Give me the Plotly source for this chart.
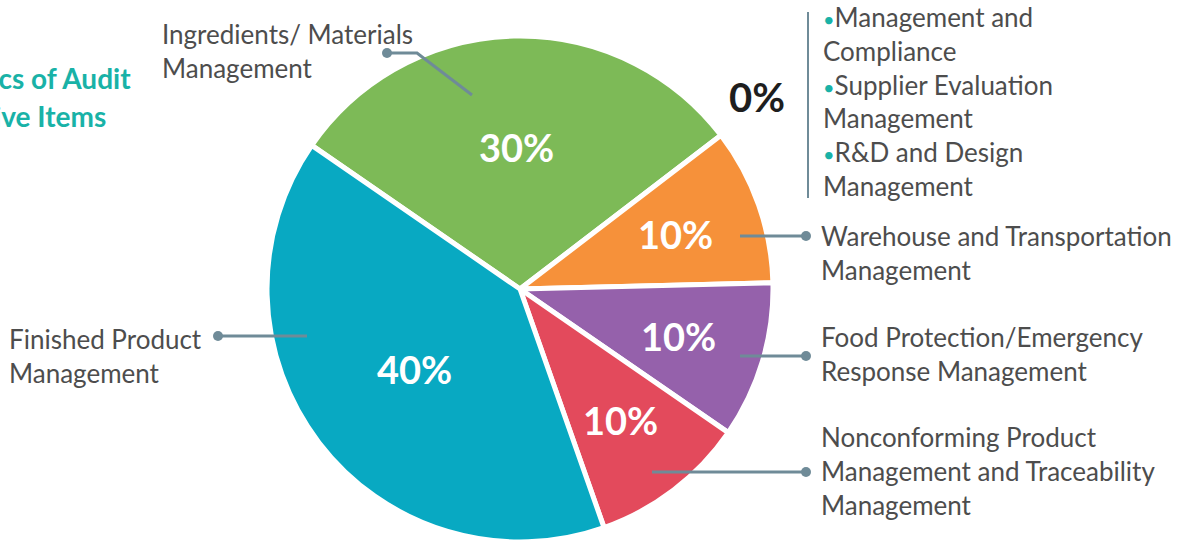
import math
import plotly.graph_objects as go

W, H = 1187, 542

categories = [
    "Ingredients/ Materials Management",
    "Warehouse and Transportation Management",
    "Food Protection/Emergency Response Management",
    "Nonconforming Product Management and Traceability Management",
    "Finished Product Management",
]
values = [30, 10, 10, 10, 40]
colors = ["#7dba57", "#f6913a", "#9561ab", "#e34a5c", "#08a9c2"]

zero_items = ["Management and<br>Compliance", "Supplier Evaluation<br>Management", "R&D and Design<br>Management"]
zero_value = "0%"
title_lines = ["Statistics of Audit", "Corrective Items"]

FONT = "Lato"
LABEL_COLOR = "#4d4d4d"
LEADER = "#6f8b98"
TEAL = "#19b2a7"
ROTATION = -55.4

# pie geometry in pixels
CX, CY, R = 520, 289, 253


def px(x):
    return x / W


def py(y):
    return 1 - y / H


fig = go.Figure(go.Pie(
    labels=categories,
    values=values,
    sort=False,
    direction="clockwise",
    rotation=ROTATION,
    marker=dict(colors=colors, line=dict(color="white", width=5)),
    textinfo="none",
    hoverinfo="label+percent",
    domain=dict(x=[px(CX - R), px(CX + R)], y=[py(CY + R), py(CY - R)]),
    showlegend=False,
))

annotations = []
shapes = []

# percent labels placed at each slice's mid-angle
radius_frac = [0.57, 0.66, 0.66, 0.66, 0.53]
total = sum(values)
cum = 0
for v, rf in zip(values, radius_frac):
    mid = ROTATION + (cum + v / 2) / total * 360
    cum += v
    a = math.radians(mid)
    x = CX + rf * 250 * math.sin(a)
    y = CY - rf * 250 * math.cos(a)
    annotations.append(dict(text=f"<b>{v / total * 100:.0f}%</b>", x=px(x), y=py(y),
                            xref="paper", yref="paper", xanchor="center", yanchor="middle",
                            showarrow=False, font=dict(family=FONT, size=38, color="white")))

# leader lines (paper coordinates)
leaders = [
    [(472, 95), (417, 53), (387, 53)],
    [(740, 236), (806, 236)],
    [(740, 356), (806, 356)],
    [(652, 472), (806, 472)],
    [(307, 336), (218, 336)],
]
for pts in leaders:
    path = "M " + " L ".join(f"{px(x)},{py(y)}" for x, y in pts)
    shapes.append(dict(type="path", xref="paper", yref="paper", path=path,
                       line=dict(color=LEADER, width=3)))
    ex, ey = pts[-1]
    r = 5
    shapes.append(dict(type="circle", xref="paper", yref="paper",
                       x0=px(ex - r), x1=px(ex + r), y0=py(ey + r), y1=py(ey - r),
                       fillcolor=LEADER, line=dict(width=0)))

# vertical divider for 0% group
shapes.append(dict(type="line", xref="paper", yref="paper",
                   x0=px(808), x1=px(808), y0=py(12), y1=py(198),
                   line=dict(color=LEADER, width=2)))

label_text = [
    ("Ingredients/ Materials<br>Management", 160, 50.5),
    ("Warehouse and Transportation<br>Management", 819, 253.5),
    ("Food Protection/Emergency<br>Response Management", 819, 354),
    ("Nonconforming Product<br>Management and Traceability<br>Management", 819, 471),
    ("Finished Product<br>Management", 7, 356),
]
for t, x, y in label_text:
    annotations.append(dict(text=t, x=px(x), y=py(y), xref="paper", yref="paper",
                            xanchor="left", yanchor="middle", align="left", showarrow=False,
                            font=dict(family=FONT, size=26, color=LABEL_COLOR)))

bullet = f"<span style='color:{TEAL};font-size:20px'>•</span>"
bullet_text = "<br>".join(bullet + it for it in zero_items)
annotations.append(dict(text=bullet_text, x=px(821), y=py(101), xref="paper", yref="paper",
                        xanchor="left", yanchor="middle", align="left", showarrow=False,
                        font=dict(family=FONT, size=26, color=LABEL_COLOR)))

annotations.append(dict(text=f"<b>{zero_value}</b>", x=px(757), y=py(97), xref="paper", yref="paper",
                        xanchor="center", yanchor="middle", showarrow=False,
                        font=dict(family=FONT, size=40, color="#1e1e1e")))

for line, xr, yc in zip(title_lines, [133, 108], [78, 116]):
    annotations.append(dict(text=f"<b>{line}</b>", x=px(xr), y=py(yc), xref="paper", yref="paper",
                            xanchor="right", yanchor="middle", align="right", showarrow=False,
                            font=dict(family=FONT, size=28, color=TEAL)))

fig.update_layout(
    width=W, height=H,
    margin=dict(l=0, r=0, t=0, b=0),
    paper_bgcolor="white",
    plot_bgcolor="white",
    annotations=annotations,
    shapes=shapes,
)

fig.write_html("out.html")
